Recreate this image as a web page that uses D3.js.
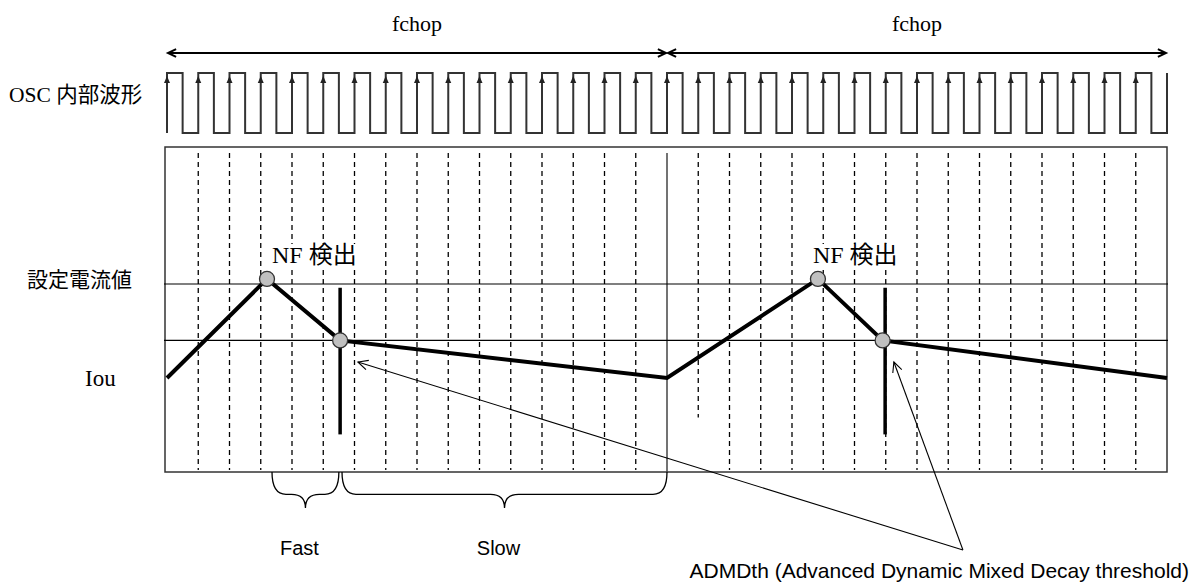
<!DOCTYPE html>
<html>
<head>
<meta charset="utf-8">
<script src="https://cdn.jsdelivr.net/npm/d3@7/dist/d3.min.js"></script>
<style>
body { margin: 0; background: #fff; }
</style>
</head>
<body>
<svg id="chart" width="1191" height="582"></svg>
<script>
// time is counted in OSC clock periods, two chop periods of 16 clocks each
var clockEdges = [0,1,2,3,4,5,6,7,8,9,10,11,12,13,14,15,16,17,18,19,20,21,22,23,24,25,26,27,28,29,30,31,32];
var dashedTicks = [1,2,3,4,5,6,7,8,9,10,11,12,13,14,15,17,18,19,20,21,22,23,24,25,26,27,28,29,30,31];
var dividerTick = 16;
var shortTicks = [17];

// coil current (1 = set current)
var currentT = [0, 3.2, 5.54, 16, 20.83, 22.9, 32];
var currentV = [0.5, 1.027, 0.7, 0.5, 1.027, 0.7, 0.5];
var markT = [3.2, 5.54, 20.83, 22.9];
var markV = [1.027, 0.7, 1.027, 0.7];
var thresholdT = [5.54, 22.98];
var levelLines = [1.0, 0.7];

var levelNames = ['設定電流値', 'Iou'];
var levelNameV = [1.027, 0.5];
var nfNames = ['NF 検出', 'NF 検出'];
var nfT = [3.36, 20.67];

var chopNames = ['fchop', 'fchop'];
var chopFrom = [0, 16];
var chopTo = [16, 32];

var braceNames = ['Fast', 'Slow'];
var braceFrom = [3.36, 5.6];
var braceTo = [5.5, 16];

var admdName = 'ADMDth (Advanced Dynamic Mixed Decay threshold)';
var admdTipT = [6.11, 23.26];
var admdTipV = [0.585, 0.585];
var admdRootT = 25.47;
var admdRootV = -0.415;

var svg = d3.select('#chart');
var serif = '"Liberation Serif", "Noto Sans CJK JP", serif';
var sans = '"Liberation Sans", Arial, sans-serif';

var x = d3.scaleLinear().domain([0, 32]).range([167, 1167]);
var y = d3.scaleLinear().domain([0, 1]).range([472, 284]);
var osc = d3.scaleLinear().domain([0, 1]).range([133, 73]);

function chevron(g, px, py, ang, len, width) {
	// open arrow head at (px,py), pointing along angle ang
	var a1 = ang + Math.PI - 0.45, a2 = ang + Math.PI + 0.45;
	g.append('path')
		.attr('d', 'M' + (px + len * Math.cos(a1)) + ',' + (py + len * Math.sin(a1)) +
			'L' + px + ',' + py +
			'L' + (px + len * Math.cos(a2)) + ',' + (py + len * Math.sin(a2)))
		.attr('fill', 'none')
		.attr('stroke', '#000')
		.attr('stroke-width', width);
}

// chop period arrows
var header = svg.append('g');
for (var i = 0; i < chopNames.length; i++) {
	var x0 = x(chopFrom[i]) + 1, x1 = x(chopTo[i]) - 1;
	header.append('line')
		.attr('x1', x0).attr('x2', x1).attr('y1', 53).attr('y2', 53)
		.attr('stroke', '#000').attr('stroke-width', 2);
	chevron(header, x0, 53, Math.PI, 9, 2);
	chevron(header, x1, 53, 0, 9, 2);
	header.append('text')
		.attr('x', (x0 + x1) / 2).attr('y', 31)
		.attr('text-anchor', 'middle')
		.attr('font-family', serif).attr('font-size', 22)
		.text(chopNames[i]);
}

// OSC waveform
svg.append('text')
	.attr('x', 9).attr('y', 102)
	.attr('font-family', serif).attr('font-size', 21.5)
	.text('OSC 内部波形');

var wave = [];
for (var i = 0; i < clockEdges.length; i++) {
	var t = clockEdges[i];
	wave.push([t, 0], [t, 1]);
	if (i < clockEdges.length - 1) {
		wave.push([t + 0.5, 1], [t + 0.5, 0]);
	}
}
var waveLine = d3.line().x(function (d) { return x(d[0]); }).y(function (d) { return osc(d[1]); });
svg.append('path')
	.attr('d', waveLine(wave))
	.attr('fill', 'none')
	.attr('stroke', '#333')
	.attr('stroke-width', 2);
svg.selectAll('path.edge')
	.data(clockEdges.slice(0, -1))
	.enter().append('path')
	.attr('class', 'edge')
	.attr('d', function (d) {
		var px = x(d), py = osc(1) + 3;
		return 'M' + px + ',' + py + 'L' + (px - 3) + ',' + (py + 7) + 'L' + (px + 3) + ',' + (py + 7) + 'Z';
	})
	.attr('fill', '#222');

// current frame
var plot = svg.append('g');
plot.append('rect')
	.attr('x', x(0) - 2).attr('y', 147)
	.attr('width', x(32) - x(0) + 2).attr('height', 472 - 147)
	.attr('fill', 'none').attr('stroke', '#333').attr('stroke-width', 1.5);

plot.selectAll('line.grid')
	.data(dashedTicks)
	.enter().append('line')
	.attr('class', 'grid')
	.attr('x1', function (d) { return x(d); })
	.attr('x2', function (d) { return x(d); })
	.attr('y1', 153)
	.attr('y2', function (d) { return shortTicks.indexOf(d) >= 0 ? y(0.29) : 470; })
	.attr('stroke', '#000').attr('stroke-width', 1.3)
	.attr('stroke-dasharray', '5,4');

plot.append('line')
	.attr('x1', x(dividerTick)).attr('x2', x(dividerTick))
	.attr('y1', 153).attr('y2', 472)
	.attr('stroke', '#444').attr('stroke-width', 1.5);

plot.selectAll('line.level')
	.data(levelLines)
	.enter().append('line')
	.attr('class', 'level')
	.attr('x1', x(0) - 3).attr('x2', x(32) + 1)
	.attr('y1', function (d) { return y(d); })
	.attr('y2', function (d) { return y(d); })
	.attr('stroke', '#000').attr('stroke-width', 1.2);

for (var i = 0; i < levelNames.length; i++) {
	plot.append('text')
		.attr('x', i == 0 ? 27 : 85)
		.attr('y', y(levelNameV[i]) + 8)
		.attr('font-family', serif).attr('font-size', i == 0 ? 21 : 23)
		.text(levelNames[i]);
}

// NF detect labels with white background
for (var i = 0; i < nfNames.length; i++) {
	var lbl = plot.append('g');
	var txt = lbl.append('text')
		.attr('x', x(nfT[i])).attr('y', 263)
		.attr('font-family', serif).attr('font-size', 24)
		.text(nfNames[i]);
	var bb = txt.node().getBBox();
	lbl.insert('rect', 'text')
		.attr('x', bb.x - 2).attr('y', bb.y + 2)
		.attr('width', bb.width + 4).attr('height', bb.height - 2)
		.attr('fill', '#fff');
}

// threshold bars
plot.selectAll('line.th')
	.data(thresholdT)
	.enter().append('line')
	.attr('class', 'th')
	.attr('x1', function (d) { return x(d); })
	.attr('x2', function (d) { return x(d); })
	.attr('y1', y(0.98)).attr('y2', y(0.2))
	.attr('stroke', '#000').attr('stroke-width', 3.5);

var cur = d3.line().x(function (d) { return x(d[0]); }).y(function (d) { return y(d[1]); });
plot.append('path')
	.attr('d', cur(d3.zip(currentT, currentV)))
	.attr('fill', 'none')
	.attr('stroke', '#000').attr('stroke-width', 4)
	.attr('stroke-linejoin', 'miter');

plot.selectAll('circle.mark')
	.data(d3.zip(markT, markV))
	.enter().append('circle')
	.attr('class', 'mark')
	.attr('cx', function (d) { return x(d[0]); })
	.attr('cy', function (d) { return y(d[1]); })
	.attr('r', 7.5)
	.attr('fill', '#c0c0c0').attr('stroke', '#333').attr('stroke-width', 1.3);

// braces below the plot
function brace(x0, x1, y0, h) {
	var xm = (x0 + x1) / 2, ym = y0 + h * 0.62, r = Math.min(14, (x1 - x0) / 4);
	return 'M' + x0 + ',' + y0 +
		'Q' + x0 + ',' + ym + ' ' + (x0 + r) + ',' + ym +
		'L' + (xm - r) + ',' + ym +
		'Q' + xm + ',' + ym + ' ' + xm + ',' + (y0 + h) +
		'Q' + xm + ',' + ym + ' ' + (xm + r) + ',' + ym +
		'L' + (x1 - r) + ',' + ym +
		'Q' + x1 + ',' + ym + ' ' + x1 + ',' + y0;
}
for (var i = 0; i < braceNames.length; i++) {
	plot.append('path')
		.attr('d', brace(x(braceFrom[i]), x(braceTo[i]), 472, 36))
		.attr('fill', 'none').attr('stroke', '#000').attr('stroke-width', 1.3);
	plot.append('text')
		.attr('x', (x(braceFrom[i]) + x(braceTo[i])) / 2 - 6)
		.attr('y', 555)
		.attr('text-anchor', 'middle')
		.attr('font-family', sans).attr('font-size', 20)
		.text(braceNames[i]);
}

// ADMDth pointers
var rx = x(admdRootT), ry = y(admdRootV);
for (var i = 0; i < admdTipT.length; i++) {
	var tx = x(admdTipT[i]), ty = y(admdTipV[i]);
	plot.append('line')
		.attr('x1', rx).attr('y1', ry).attr('x2', tx).attr('y2', ty)
		.attr('stroke', '#000').attr('stroke-width', 1.1);
	chevron(plot, tx, ty, Math.atan2(ty - ry, tx - rx), 11, 1.1);
}
plot.append('text')
	.attr('x', 1189).attr('y', 578)
	.attr('text-anchor', 'end')
	.attr('font-family', sans).attr('font-size', 21)
	.text(admdName);
</script>
</body>
</html>
